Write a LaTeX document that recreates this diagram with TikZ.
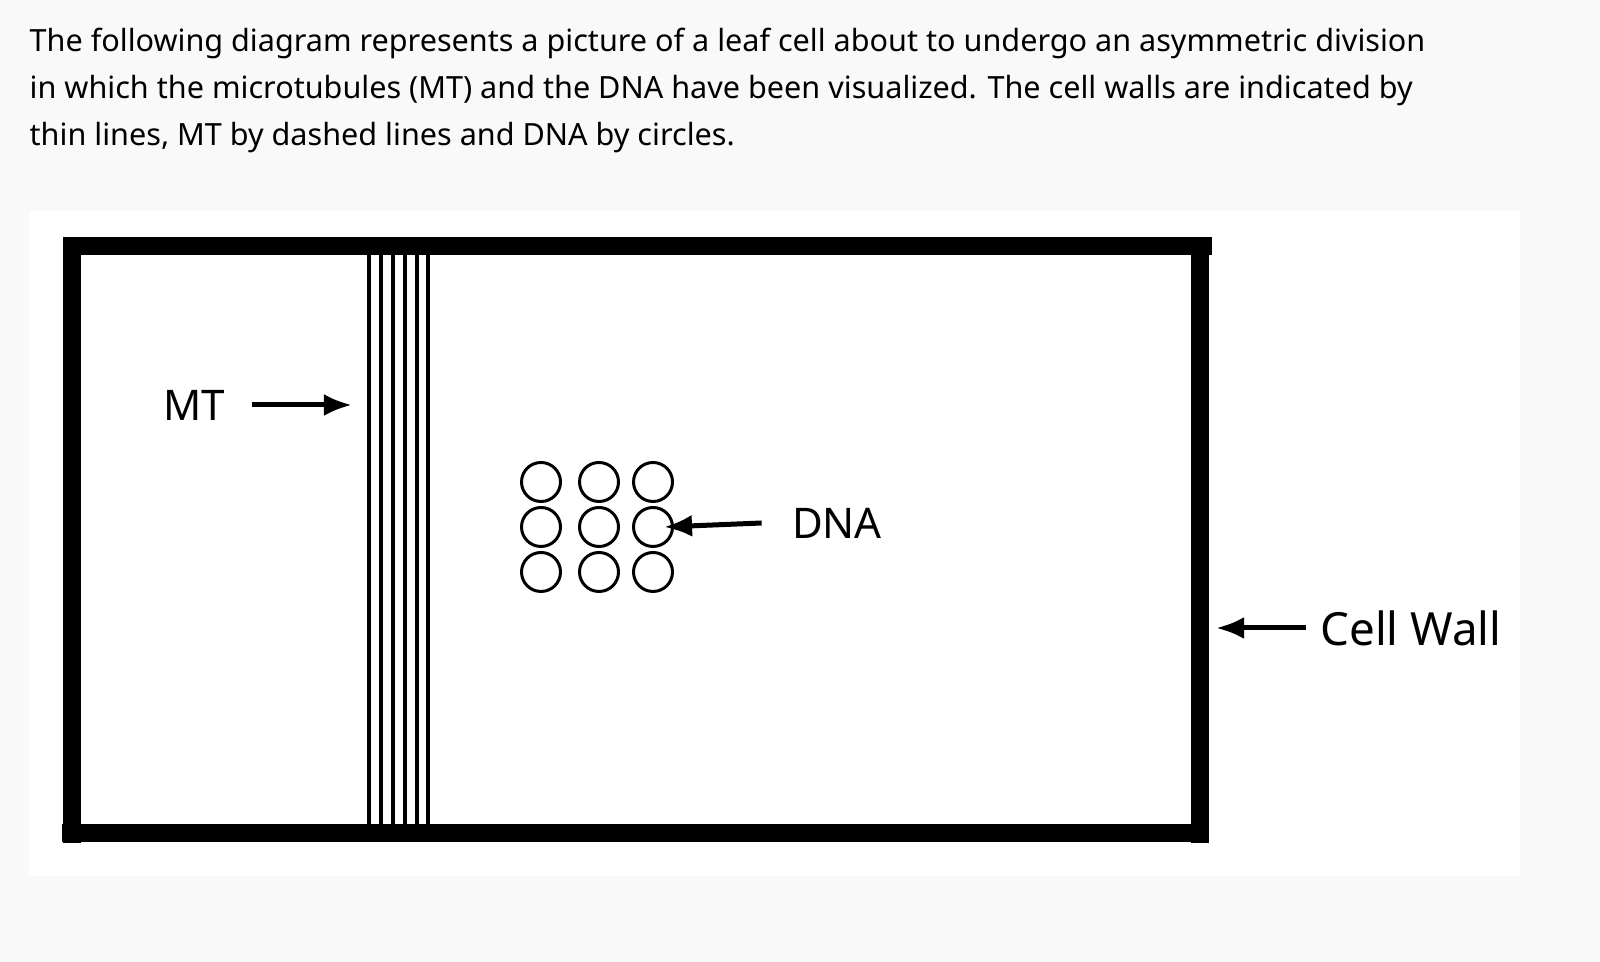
\documentclass[tikz,border=0pt]{standalone}
\usepackage{fontspec}
\setmainfont{Noto Sans}
\usetikzlibrary{arrows.meta}
\definecolor{pagebg}{HTML}{F9F9F9}

\tikzset{
  wall/.style={line width=18*0.01cm},
  mt/.style={line width=4*0.01cm},
  dna/.style={draw, circle, line width=3*0.01cm, minimum size=39*0.01cm, inner sep=0pt},
  pointer/.style={line width=5*0.01cm, -{Latex[length=0.28cm,width=0.22cm]}},
  label/.style={font=\fontsize{12pt}{14pt}\selectfont}
}

\begin{document}
\begin{tikzpicture}[x=0.01cm, y=-0.01cm]
  \fill[pagebg] (0,0) rectangle (1600,962);
  \useasboundingbox (0,0) rectangle (1600,962);
  \fill[white] (29,211) rectangle (1520,876);

  % question text
  \node[anchor=north west, inner sep=0pt, align=left,
        font=\fontsize{8.7pt}{13.4pt}\selectfont] (question) at (29,27)
    {The following diagram represents a picture of a leaf cell about to undergo an asymmetric division\\
     in which the microtubules (MT) and the DNA have been visualized. The cell walls are indicated by\\
     thin lines, MT by dashed lines and DNA by circles.};

  % cell walls
  \draw[wall] (63,246) -- (1212,246);
  \draw[wall] (72,237) -- (72,843);
  \draw[wall] (62,833) -- (1209,833);
  \draw[wall] (1200,246) -- (1200,843);

  % microtubule band
  \foreach \x in {369,381,393,405,417,428}
    \draw[mt] (\x,255) -- (\x,824);

  % DNA
  \foreach \r/\y in {a/482,b/527,c/572}
    \foreach \c/\x in {1/541,2/599,3/653}
      \node[dna] (dna\r\c) at (\x,\y) {};

  % labels
  \node[label] (mtlabel) at (194,405) {MT};
  \coordinate (mttip) at (352,405);
  \draw[pointer] (252,405) -- (mttip);

  \node[label] (dnalabel) at (837,523) {DNA};
  \draw[pointer] (dnalabel.west) ++(-18,0) -- ([xshift=-10*0.01cm]dnab3.east);

  \node[label, font=\fontsize{13pt}{15pt}\selectfont] (walllabel) at (1411,628) {Cell Wall};
  \coordinate (walltip) at (1216,628);
  \draw[pointer] (1306,628) -- (walltip);
\end{tikzpicture}
\end{document}
